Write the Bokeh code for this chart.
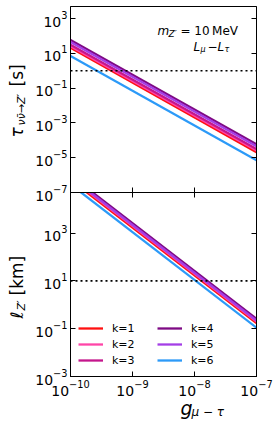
from bokeh.plotting import figure
from bokeh.models import Range1d, LogAxis, FixedTicker, Span, Label, Legend, LegendItem
from bokeh.layouts import column, row
from bokeh.embed import file_html
from bokeh.resources import INLINE

# ---- data ----
g_values = [1e-10, 1e-7]
k_labels = ["k=1", "k=2", "k=3", "k=4", "k=5", "k=6"]
k_colors = ["#FF1010", "#FF45A8", "#C4168C", "#7E0A84", "#A43EE6", "#2C9AF8"]

tau_k1 = [21.0, 2.1e-5]
tau_k2 = [26.0, 2.6e-5]
tau_k3 = [32.0, 3.2e-5]
tau_k4 = [60.0, 6.0e-5]
tau_k5 = [46.0, 4.6e-5]
tau_k6 = [7.2, 7.2e-6]

ell_k1 = [1.7e5, 0.17]
ell_k2 = [2.0e5, 0.20]
ell_k3 = [2.4e5, 0.24]
ell_k4 = [2.6e5, 0.26]
ell_k5 = [2.2e5, 0.22]
ell_k6 = [1.1e5, 0.11]

tau_ref = 1.0      # dotted line, top panel
ell_ref = 10.0     # dotted line, bottom panel

x_ticks = [1e-10, 1e-9, 1e-8, 1e-7]
tau_ticks = [1e-7, 1e-5, 1e-3, 1e-1, 1e1, 1e3]
ell_ticks = [1e-3, 1e-1, 1e1, 1e3]

tau_series = [tau_k1, tau_k2, tau_k3, tau_k4, tau_k5, tau_k6]
ell_series = [ell_k1, ell_k2, ell_k3, ell_k4, ell_k5, ell_k6]

FONT = "DejaVu Sans"
OVERLAP = 14


def style_axis(ax, ticks, show_labels):
    ax.ticker = FixedTicker(ticks=ticks)
    ax.major_tick_in = 5
    ax.major_tick_out = 0
    ax.minor_tick_in = 0
    ax.minor_tick_out = 0
    ax.axis_line_color = "black"
    ax.major_tick_line_color = "black"
    if show_labels:
        ax.major_label_text_font = FONT
        ax.major_label_text_font_size = "14px"
        ax.major_label_text_color = "black"
        ax.major_label_standoff = 3
    else:
        ax.major_label_text_font_size = "1px"
        ax.major_label_text_color = None
        ax.major_label_standoff = 0


def make_fig(height, yr, yticks, border_top, border_bottom, top_axis):
    p = figure(width=250, height=height, x_axis_type="log", y_axis_type="log",
               x_range=Range1d(1e-10, 1e-7), y_range=Range1d(*yr),
               output_backend="svg", toolbar_location=None,
               min_border_left=40, min_border_right=24,
               min_border_top=border_top, min_border_bottom=border_bottom)
    p.grid.visible = False
    p.outline_line_color = "black"
    p.background_fill_color = "white"
    p.border_fill_color = "white"
    style_axis(p.left[0], yticks, True)
    style_axis(p.below[0], x_ticks, False)
    right = LogAxis()
    style_axis(right, yticks, False)
    p.add_layout(right, "right")
    if top_axis:
        up = LogAxis()
        style_axis(up, x_ticks, False)
        p.add_layout(up, "above")
    return p


def strip(width, height):
    s = figure(width=width, height=height, x_range=Range1d(0, 1), y_range=Range1d(0, 1),
               output_backend="svg", toolbar_location=None,
               x_axis_location=None, y_axis_location=None,
               min_border=0, min_border_left=0, min_border_right=0,
               min_border_top=0, min_border_bottom=0)
    s.grid.visible = False
    s.outline_line_color = None
    return s


def lab(p, x, y, text, size, italic=False, angle=0.0, align="left", baseline="alphabetic"):
    p.add_layout(Label(x=x, y=y, x_units="screen", y_units="screen", text=text,
                       text_font=FONT, text_font_size=size,
                       text_font_style="italic" if italic else "normal",
                       text_color="black", angle=angle, text_align=align,
                       text_baseline=baseline))


# ---- top panel ----
p1 = make_fig(192 + OVERLAP, (1e-7, 5e3), tau_ticks, 6, OVERLAP, False)
for ys, c in zip(tau_series, k_colors):
    p1.line(g_values, ys, line_color=c, line_width=2.3)
p1.add_layout(Span(location=tau_ref, dimension="width", line_color="black",
                   line_width=1.6, line_dash="2 3"))

# annotation top-right
lab(p1, 87, 162, "m", "12px", italic=True)
lab(p1, 98, 159, "Z′", "9px", italic=True)
lab(p1, 110, 162, "= 10\u2009MeV", "12px")
lab(p1, 123, 146, "L", "12px", italic=True)
lab(p1, 130, 143, "μ", "8px", italic=True)
lab(p1, 137, 146, "−", "12px")
lab(p1, 147, 146, "L", "12px", italic=True)
lab(p1, 154, 143, "τ", "8px", italic=True)

# ---- bottom panel ----
p2 = make_fig(206, (1e-3, 5e4), ell_ticks, 0, 22, True)
p2.border_fill_alpha = 0
p2.margin = (-OVERLAP, 0, 0, 0)
style_axis(p2.below[0], x_ticks, True)
rs = []
for ys, c in zip(ell_series, k_colors):
    rs.append(p2.line(g_values, ys, line_color=c, line_width=2.3))
p2.add_layout(Span(location=ell_ref, dimension="width", line_color="black",
                   line_width=1.6, line_dash="2 3"))


def make_legend(items, loc):
    return Legend(items=items, location=loc, orientation="vertical",
                  glyph_width=25, glyph_height=14, label_height=14,
                  label_standoff=9, spacing=2, padding=0, margin=0,
                  border_line_color=None, background_fill_alpha=0,
                  label_text_font=FONT, label_text_font_size="11px",
                  label_text_color="black")


leg1 = make_legend([LegendItem(label=k_labels[i], renderers=[rs[i]]) for i in range(3)], (8, 9))
leg2 = make_legend([LegendItem(label=k_labels[i], renderers=[rs[i]]) for i in range(3, 6)], (87, 9))
p2.add_layout(leg1)
p2.add_layout(leg2)

# ---- x label strip ----
xs = strip(250, 26)
lab(xs, 110, 17, "g", "19px", italic=True)
lab(xs, 121, 13, "μ − τ", "12px", italic=True)

# ---- y label strip (rotated texts) ----
A = 3.14159265 / 2
ys_ = strip(30, 424)
lab(ys_, 16, 287, "τ", "17px", italic=True, angle=A, baseline="middle")
lab(ys_, 21, 299, "νν̄→Z′", "11px", italic=True, angle=A, baseline="middle")
lab(ys_, 16, 338, "[s]", "17px", angle=A, baseline="middle")
lab(ys_, 16, 106, "ℓ", "17px", italic=True, angle=A, baseline="middle")
lab(ys_, 21, 114, "Z′", "11px", italic=True, angle=A, baseline="middle")
lab(ys_, 16, 129, "[km]", "17px", angle=A, baseline="middle")

layout = row(ys_, column(p1, p2, xs, spacing=0), spacing=0)
open("out.html", "w").write(file_html(layout, INLINE))
